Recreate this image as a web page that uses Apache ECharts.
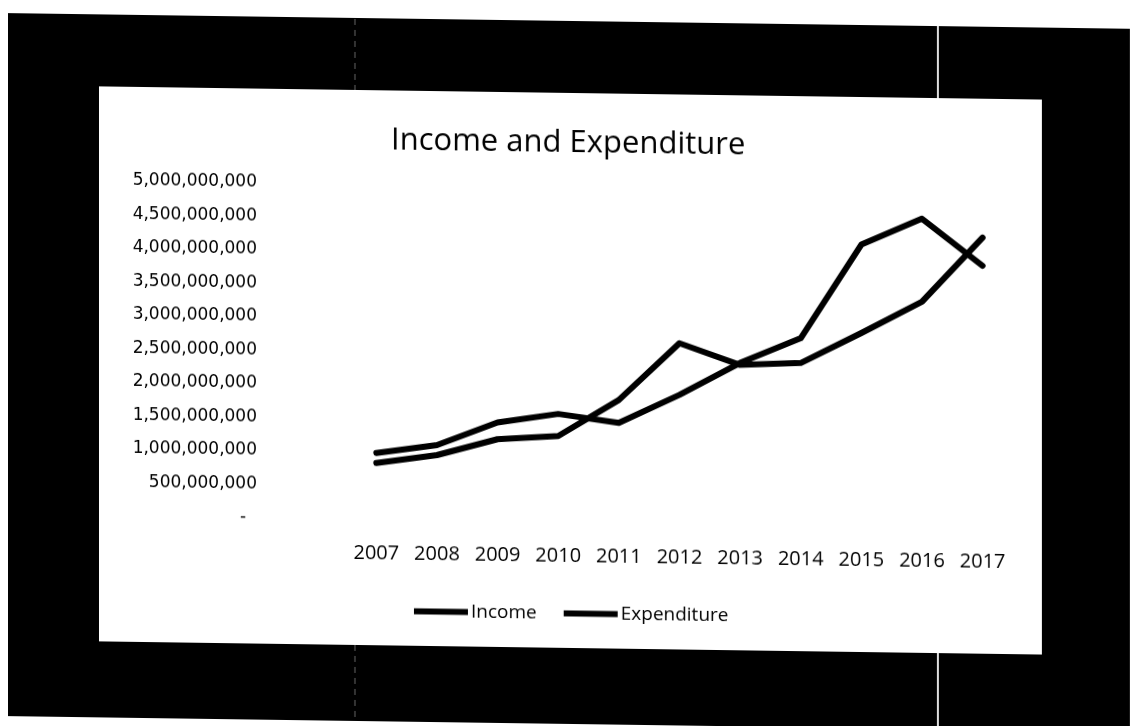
<!DOCTYPE html>
<html>
<head>
<meta charset="utf-8">
<script src="https://cdn.jsdelivr.net/npm/echarts@6/dist/echarts.min.js"></script>
<style>
html,body{margin:0;padding:0;background:#fff;overflow:hidden;}
#chart{width:1130px;height:726px;transform:skewY(0.8deg);transform-origin:0 0;}
</style>
</head>
<body>
<div id="chart"></div>
<script>
const years = ['2007','2008','2009','2010','2011','2012','2013','2014','2015','2016','2017'];
const income = [990000000, 1120000000, 1470000000, 1610000000, 1490000000, 1920000000, 2410000000, 2790000000, 4200000000, 4600000000, 3910000000];
const expenditure = [840000000, 970000000, 1220000000, 1280000000, 1830000000, 2690000000, 2380000000, 2420000000, 2880000000, 3360000000, 4330000000];
const yMin = 0, yMax = 5000000000, yStep = 500000000;

const chart = echarts.init(document.getElementById('chart'));
function fmt(v){
  if (v === 0) return '-  ';
  return String(v).replace(/\B(?=(\d{3})+(?!\d))/g, ',');
}
chart.setOption({
  animation:false,
  backgroundColor:'#fff',
  graphic:[
    {type:'rect', z:-10, shape:{x:8,y:13,width:1140,height:703}, style:{fill:'#000'}},
    {type:'rect', z:-9, shape:{x:99,y:85,width:943,height:555}, style:{fill:'#fff'}},
    {type:'line', z:-8, shape:{x1:938,y1:13,x2:938,y2:85}, style:{stroke:'#ddd',lineWidth:2}},
    {type:'line', z:-8, shape:{x1:938,y1:640,x2:938,y2:716}, style:{stroke:'#ddd',lineWidth:2}},
    {type:'line', z:-8, shape:{x1:355,y1:14,x2:355,y2:85}, style:{stroke:'#666',lineWidth:1,lineDash:[6,5]}},
    {type:'line', z:-8, shape:{x1:355,y1:640,x2:355,y2:716}, style:{stroke:'#666',lineWidth:1,lineDash:[6,5]}}
  ],
  title:{
    text:'Income and Expenditure',
    left:386, top:115,
    textStyle:{fontFamily:'Open Sans', fontSize:31, fontWeight:'normal', color:'#000'}
  },
  legend:{
    left:409, top:591,
    itemWidth:54, itemHeight:6, itemGap:27,
    icon:'rect',
    textStyle:{fontFamily:'Open Sans', fontSize:19, color:'#000', padding:[0,0,0,-2]},
    data:['Income','Expenditure']
  },
  grid:{left:346, right:117, top:179, bottom:212},
  xAxis:{
    type:'category', data:years, boundaryGap:true,
    axisLine:{show:false}, axisTick:{show:false},
    axisLabel:{interval:0, margin:24, color:'#000', fontFamily:'Open Sans', fontSize:20}
  },
  yAxis:{
    type:'value', min:yMin, max:yMax, interval:yStep,
    splitLine:{show:false}, axisLine:{show:false}, axisTick:{show:false},
    axisLabel:{margin:89, color:'#000', fontFamily:'DejaVu Sans', fontSize:17, formatter:fmt}
  },
  series:[
    {name:'Income', type:'line', data:income, symbol:'none', lineStyle:{color:'#000', width:6, cap:'round', join:'round'}, itemStyle:{color:'#000'}},
    {name:'Expenditure', type:'line', data:expenditure, symbol:'none', lineStyle:{color:'#000', width:6, cap:'round', join:'round'}, itemStyle:{color:'#000'}}
  ]
});
</script>
</body>
</html>
